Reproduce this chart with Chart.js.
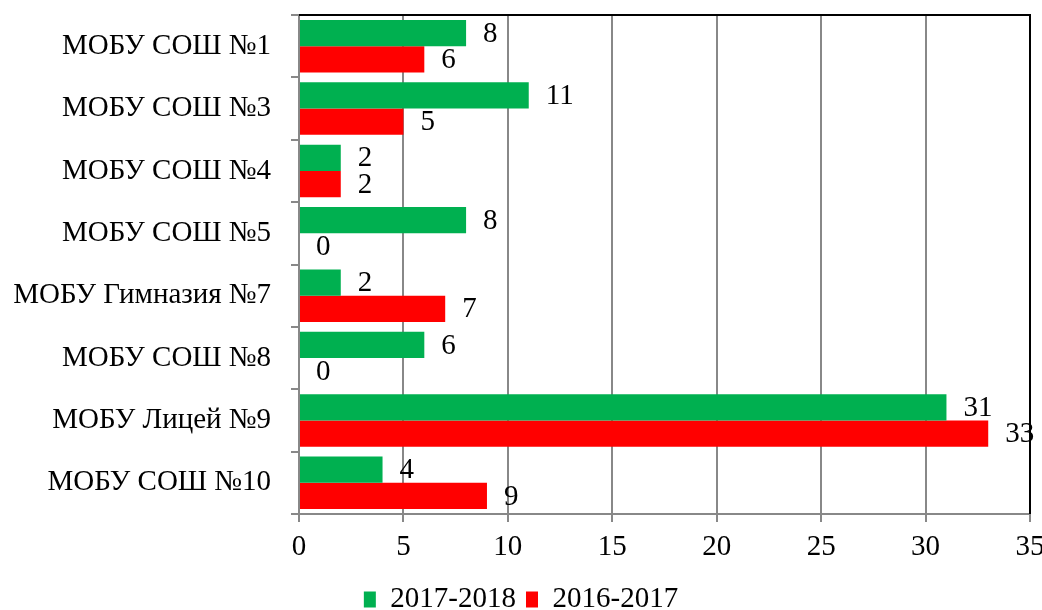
<!DOCTYPE html>
<html>
<head>
<meta charset="utf-8">
<script src="https://cdn.jsdelivr.net/npm/chart.js@4/dist/chart.umd.min.js"></script>
<style>
  html, body { margin: 0; padding: 0; background: #fff; }
  #wrap { width: 1042px; height: 610px; }
</style>
</head>
<body>
<div id="wrap"><canvas id="grafico-shkoly"></canvas></div>
<script>
// dados
const schools = ['МОБУ СОШ №1', 'МОБУ СОШ №3', 'МОБУ СОШ №4', 'МОБУ СОШ №5',
  'МОБУ Гимназия №7', 'МОБУ СОШ №8', 'МОБУ Лицей №9', 'МОБУ СОШ №10'];
const values2017 = [8, 11, 2, 8, 2, 6, 31, 4];
const values2016 = [6, 5, 2, 0, 7, 0, 33, 9];
const xTicks = [0, 5, 10, 15, 20, 25, 30, 35];

const fontFamily = "'Liberation Serif', 'Times New Roman', serif";
const fontSize = 29;
Chart.defaults.font.family = fontFamily;
Chart.defaults.font.size = fontSize;
Chart.defaults.color = '#000';

// rotulos de valor ao lado das barras
const valueLabels = {
  id: 'valueLabels',
  afterDatasetsDraw(chart) {
    const ctx = chart.ctx;
    ctx.save();
    ctx.font = fontSize + 'px ' + fontFamily;
    ctx.fillStyle = '#000';
    ctx.textBaseline = 'middle';
    ctx.textAlign = 'left';
    chart.data.datasets.forEach((ds, i) => {
      chart.getDatasetMeta(i).data.forEach((bar, j) => {
        ctx.fillText(String(ds.data[j]), bar.x + 17, bar.y + 1);
      });
    });
    ctx.restore();
  }
};

// moldura preta em cima e a direita
const frame = {
  id: 'frame',
  afterDraw(chart) {
    const a = chart.chartArea;
    const ctx = chart.ctx;
    ctx.save();
    ctx.strokeStyle = '#000';
    ctx.lineWidth = 2;
    ctx.beginPath();
    ctx.moveTo(a.left, a.top);
    ctx.lineTo(a.right, a.top);
    ctx.lineTo(a.right, a.bottom);
    ctx.stroke();
    ctx.restore();
  }
};

const ctx1 = document.getElementById('grafico-shkoly');
new Chart(ctx1, {
  type: 'bar',
  data: {
    labels: schools,
    datasets: [
      {
        label: '2017-2018',
        data: values2017,
        backgroundColor: '#00B050',
        categoryPercentage: 0.84,
        barPercentage: 1
      },
      {
        label: '2016-2017',
        data: values2016,
        backgroundColor: '#FF0000',
        categoryPercentage: 0.84,
        barPercentage: 1
      }
    ]
  },
  options: {
    indexAxis: 'y',
    responsive: true,
    maintainAspectRatio: false,
    animation: false,
    layout: { padding: { top: 15, right: 0, left: 0, bottom: -14 } },
    plugins: {
      legend: {
        position: 'bottom',
        labels: {
          boxWidth: 12,
          boxHeight: 16,
          padding: 10,
          font: { size: fontSize }
        }
      },
      tooltip: { enabled: false }
    },
    scales: {
      x: {
        min: 0,
        max: 35,
        afterBuildTicks: (scale) => { scale.ticks = xTicks.map(v => ({ value: v })); },
        afterFit: (scale) => { scale.height = 61; scale.paddingRight = 12; },
        grid: { color: '#888', lineWidth: 2, tickLength: 8 },
        border: { color: '#888', width: 2 },
        ticks: { padding: 8 }
      },
      y: {
        afterFit: (scale) => { scale.width = 299; scale.paddingTop = 0; scale.paddingBottom = 0; },
        grid: { offset: true, drawOnChartArea: false, color: '#888', lineWidth: 2, tickLength: 8 },
        border: { color: '#888', width: 2 },
        ticks: { padding: 20 }
      }
    }
  },
  plugins: [valueLabels, frame]
});
</script>
</body>
</html>
